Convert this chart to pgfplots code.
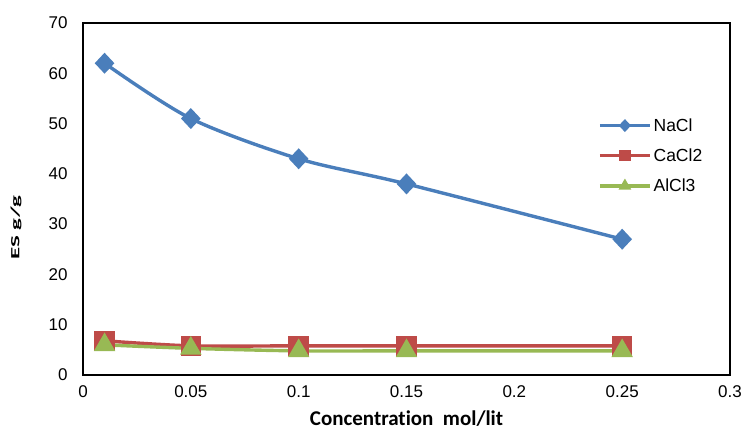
\documentclass[border=0pt]{standalone}
\usepackage{pgfplots}
\pgfplotsset{compat=1.18}
\usepackage{fontspec}
\setmainfont{Liberation Sans}
\newfontfamily\carlito[Ligatures=NoCommon]{Carlito}
\definecolor{cblue}{HTML}{4A7EBB}
\definecolor{cred}{HTML}{BE4B48}
\definecolor{cgreen}{HTML}{98B954}
\begin{document}
\begin{tikzpicture}
\useasboundingbox (0,0) rectangle (745pt,432pt);
\begin{axis}[
  at={(83pt,57pt)}, anchor=south west,
  scale only axis, width=647pt, height=352pt,
  xmin=0, xmax=0.3, ymin=0, ymax=70,
  xtick={0,0.05,0.1,0.15,0.2,0.25,0.3},
  xticklabels={0,0.05,0.1,0.15,0.2,0.25,0.3},
  ytick={0,10,20,30,40,50,60,70},
  major tick length=0pt,
  axis line style={line width=1.2pt, black},
  tick label style={font=\fontsize{17}{20}\selectfont},
  /pgf/number format/assume math mode=true,
  xticklabel style={yshift=-7pt},
  yticklabel style={xshift=-12pt},
  xlabel={\carlito\bfseries\fontsize{21}{24}\selectfont Concentration\ \ mol/lit},
  xlabel style={at={(axis description cs:0.5,-0.124)}, anchor=center},
  ylabel={\scalebox{2.0}[1]{\carlito\bfseries\fontsize{12.5}{14}\selectfont ES g/g}},
  ylabel style={at={(axis description cs:-0.1036,0.418)}, anchor=center},
  legend style={draw=none, fill=none, at={(0.796,0.735)}, anchor=north west,
    font=\fontsize{17.5}{20}\selectfont, row sep=12pt, inner sep=0pt},
  legend cell align=left,
  legend image code/.code={\draw[mark repeat=2,mark phase=2,#1,mark size=4pt] plot coordinates {(0pt,0pt) (25pt,0pt) (50pt,0pt)};},
]
\addplot[cblue, line width=3.4pt, smooth, mark=diamond*, mark size=8pt, mark options={solid, xscale=1.25}]
  coordinates {(0.01,62) (0.05,51) (0.1,43) (0.15,38) (0.25,27)};
\addlegendentry{NaCl}
\addplot[cred, line width=3.4pt, smooth, mark=square*, mark size=8.5pt, mark options={solid}]
  coordinates {(0.01,6.8) (0.05,5.8) (0.1,5.8) (0.15,5.8) (0.25,5.8)};
\addlegendentry{CaCl2}
\addplot[cgreen, line width=3.4pt, smooth, mark=triangle*, mark size=9pt, mark options={solid}]
  coordinates {(0.01,6) (0.05,5.3) (0.1,4.8) (0.15,4.8) (0.25,4.8)};
\addlegendentry{AlCl3}
\end{axis}
\end{tikzpicture}
\end{document}
